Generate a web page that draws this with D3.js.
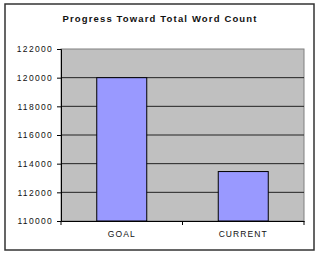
<!DOCTYPE html>
<html>
<head>
<meta charset="utf-8">
<script src="https://cdn.jsdelivr.net/npm/d3@7"></script>
<style>
  body { margin: 0; background: #fff; }
  text { font-family: Arial, "Liberation Sans", sans-serif; }
</style>
</head>
<body>
<svg id="chart" width="320" height="256"></svg>
<script>
  'use strict';

  var categories = ["GOAL", "CURRENT"];
  var values = [120000, 113450];
  var yTicks = [110000, 112000, 114000, 116000, 118000, 120000, 122000];
  var title = "Progress Toward Total Word Count";

  (function() {
    var svg = d3.select("#chart");

    // outer chart border
    svg.append("rect")
      .attr("x", 5).attr("y", 4).attr("width", 309).attr("height", 246)
      .attr("fill", "#fff").attr("stroke", "#333").attr("stroke-width", 1.5);

    svg.append("text")
      .attr("x", 160).attr("y", 22)
      .attr("text-anchor", "middle")
      .attr("font-size", 9.5).attr("font-weight", "bold")
      .attr("letter-spacing", 1.15)
      .attr("fill", "#111")
      .text(title);

    var pl = 61, pr = 304, pt = 49, pb = 221;

    var x = d3.scaleBand().domain(categories).range([pl, pr]).paddingInner(0).paddingOuter(0);
    var y = d3.scaleLinear().domain([110000, 122000]).range([pb, pt]);

    // plot area
    svg.append("rect")
      .attr("x", pl).attr("y", pt).attr("width", pr - pl).attr("height", pb - pt)
      .attr("fill", "#c0c0c0").attr("stroke", "#808080").attr("stroke-width", 1);

    // gridlines
    svg.append("g").selectAll("line")
      .data(yTicks.slice(1, -1))
      .enter().append("line")
      .attr("x1", pl).attr("x2", pr)
      .attr("y1", function(d) { return y(d); })
      .attr("y2", function(d) { return y(d); })
      .attr("stroke", "#222").attr("stroke-width", 1);

    // bars
    var barW = 50;
    svg.append("g").selectAll("rect")
      .data(values)
      .enter().append("rect")
      .attr("x", function(d, i) { return x(categories[i]) + x.bandwidth() / 2 - barW / 2; })
      .attr("y", function(d) { return y(d); })
      .attr("width", barW)
      .attr("height", function(d) { return pb - y(d); })
      .attr("fill", "#9999ff").attr("stroke", "#000").attr("stroke-width", 1);

    // y axis
    var yAxis = d3.axisLeft(y).tickValues(yTicks).tickSize(4).tickPadding(4)
      .tickFormat(d3.format("d"));
    var gy = svg.append("g").attr("transform", "translate(" + pl + ",0)").call(yAxis);
    gy.select(".domain").attr("stroke", "#000");
    gy.selectAll(".tick line").attr("stroke", "#000");
    gy.selectAll("text").attr("font-size", 8.5).attr("fill", "#111")
      .attr("letter-spacing", 1.3)
      .attr("font-family", "Arial, 'Liberation Sans', sans-serif");

    // x axis
    var xAxis = d3.axisBottom(x).tickSize(0).tickPadding(10);
    var gx = svg.append("g").attr("transform", "translate(0," + pb + ")").call(xAxis);
    gx.select(".domain").attr("stroke", "#000");
    gx.selectAll("text").attr("font-size", 8.5).attr("fill", "#111")
      .attr("letter-spacing", 1.1)
      .attr("font-family", "Arial, 'Liberation Sans', sans-serif");

    // category separator ticks
    svg.append("g").selectAll("line")
      .data([pl, x("CURRENT"), pr])
      .enter().append("line")
      .attr("x1", function(d) { return d; }).attr("x2", function(d) { return d; })
      .attr("y1", pb).attr("y2", pb + 4)
      .attr("stroke", "#000");
  })();
</script>
</body>
</html>
